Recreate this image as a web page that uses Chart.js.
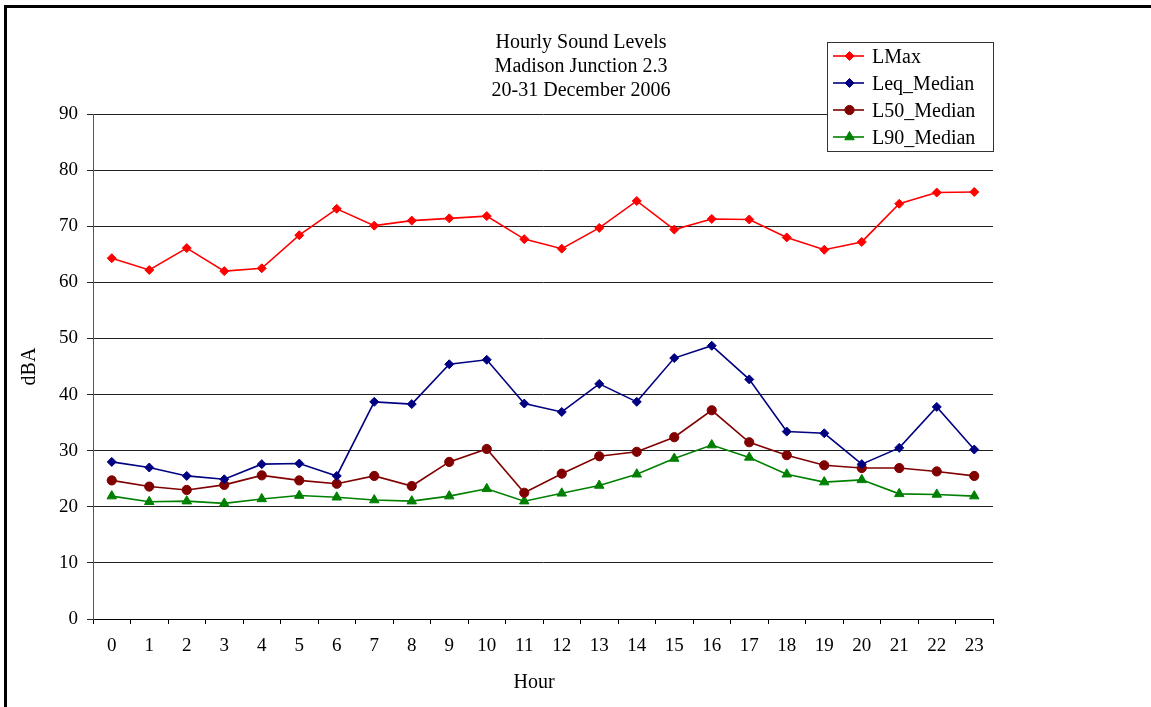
<!DOCTYPE html>
<html>
<head>
<meta charset="utf-8">
<script src="https://cdn.jsdelivr.net/npm/chart.js@4.4.0/dist/chart.umd.min.js"></script>
<style>
  html, body { margin: 0; padding: 0; background: #fff; overflow: hidden; }
  #wrap { position: absolute; left: 0; top: 0; width: 1151px; height: 707px; overflow: hidden; }
  #frame { position: absolute; left: 4px; top: 5px; width: 1300px; height: 900px;
           border-left: 3px solid #000; border-top: 3px solid #000; pointer-events: none; }
  canvas { position: absolute; left: 0; top: 0; }
</style>
</head>
<body>
<div id="wrap">
  <canvas id="c" width="1151" height="707"></canvas>
  <div id="frame"></div>
</div>
<script>
// ---- data ----
const hours = ['0','1','2','3','4','5','6','7','8','9','10','11','12','13','14','15','16','17','18','19','20','21','22','23'];
const lmax  = [64.3,62.2,66.1,62.0,62.5,68.4,73.1,70.1,71.0,71.4,71.8,67.7,66.0,69.7,74.5,69.4,71.3,71.2,68.0,65.8,67.2,74.0,76.0,76.1];
const leqMedian = [28.0,27.0,25.5,24.9,27.6,27.7,25.5,38.7,38.3,45.4,46.2,38.4,36.9,41.9,38.7,46.5,48.7,42.7,33.4,33.1,27.6,30.5,37.8,30.2];
const l50Median = [24.7,23.6,23.0,23.9,25.6,24.7,24.1,25.5,23.7,28.0,30.3,22.5,25.9,29.0,29.8,32.4,37.2,31.5,29.2,27.4,26.9,26.9,26.3,25.5];
const l90Median = [21.9,20.9,21.0,20.6,21.4,22.0,21.7,21.2,21.0,21.9,23.2,21.0,22.4,23.8,25.8,28.6,31.0,28.8,25.8,24.4,24.8,22.3,22.2,21.9];
const seriesNames = ['LMax','Leq_Median','L50_Median','L90_Median'];
const titleLines = ['Hourly Sound Levels','Madison Junction 2.3','20-31 December 2006'];
const xTitle = 'Hour';
const yTitle = 'dBA';
const yMin = 0, yMax = 90, yStep = 10;

const FONT = '"Liberation Serif", "Times New Roman", serif';

function mkSet(label, data, color, style, radius) {
  return {
    label, data,
    borderColor: color, backgroundColor: color,
    borderWidth: 1.6,
    pointStyle: style, pointRadius: radius, pointHoverRadius: radius,
    pointBackgroundColor: color, pointBorderColor: color, pointBorderWidth: 1,
    tension: 0, fill: false
  };
}

const datasets = [
  mkSet(seriesNames[0], lmax, '#ff0000', 'rectRot', 4.5),
  mkSet(seriesNames[1], leqMedian, '#000080', 'rectRot', 4.5),
  mkSet(seriesNames[2], l50Median, '#800000', 'circle', 4.6),
  mkSet(seriesNames[3], l90Median, '#008000', 'triangle', 5.5)
];

function drawMarker(ctx, style, r, x, y, color) {
  ctx.save();
  ctx.fillStyle = color; ctx.strokeStyle = color; ctx.lineWidth = 1;
  ctx.beginPath();
  if (style === 'rectRot') {
    ctx.moveTo(x - r, y); ctx.lineTo(x, y - r); ctx.lineTo(x + r, y); ctx.lineTo(x, y + r);
  } else if (style === 'circle') {
    ctx.arc(x, y, r, 0, Math.PI * 2);
  } else if (style === 'triangle') {
    ctx.moveTo(x, y - r);
    ctx.lineTo(x + r * Math.sin(2 * Math.PI / 3), y - r * Math.cos(2 * Math.PI / 3));
    ctx.lineTo(x + r * Math.sin(4 * Math.PI / 3), y - r * Math.cos(4 * Math.PI / 3));
  }
  ctx.closePath(); ctx.fill(); ctx.stroke();
  ctx.restore();
}

const overlay = {
  id: 'overlay',
  afterDraw(chart) {
    const ctx = chart.ctx;
    ctx.save();
    ctx.fillStyle = '#000';
    ctx.font = '20px ' + FONT;
    ctx.textAlign = 'center';
    ctx.textBaseline = 'alphabetic';
    titleLines.forEach((t, i) => ctx.fillText(t, 581, 48 + i * 24));
    // x axis title
    ctx.font = '20px ' + FONT;
    ctx.fillText(xTitle, 534, 688);
    // legend box
    const bx = 827.5, by = 42.5, bw = 166, bh = 109;
    ctx.fillStyle = '#fff';
    ctx.fillRect(bx, by, bw, bh);
    ctx.strokeStyle = '#333'; ctx.lineWidth = 1;
    ctx.strokeRect(bx, by, bw, bh);
    chart.data.datasets.forEach((ds, i) => {
      const cy = 56 + i * 27;
      ctx.strokeStyle = ds.borderColor; ctx.lineWidth = 1.6;
      ctx.beginPath(); ctx.moveTo(833, cy); ctx.lineTo(864, cy); ctx.stroke();
      drawMarker(ctx, ds.pointStyle, ds.pointRadius, 849.5, cy, ds.borderColor);
      ctx.fillStyle = '#000';
      ctx.textAlign = 'left';
      ctx.font = '20px ' + FONT;
      ctx.fillText(ds.label, 872, cy + 6.5);
    });
    ctx.restore();
  }
};

new Chart(document.getElementById('c'), {
  type: 'line',
  data: { labels: hours, datasets },
  plugins: [overlay],
  options: {
    responsive: false,
    animation: false,
    devicePixelRatio: 1,
    layout: { padding: { left: 0, top: 114, right: 158, bottom: 0 } },
    plugins: {
      legend: { display: false },
      title: { display: false },
      tooltip: { enabled: false }
    },
    scales: {
      x: {
        type: 'category',
        offset: true,
        grid: { display: true, drawOnChartArea: false, drawTicks: true, tickLength: 5, color: '#000', offset: true },
        border: { display: true, color: '#000', width: 1 },
        ticks: { color: '#000', font: { family: FONT, size: 19 }, padding: 11, maxRotation: 0, autoSkip: false },
        afterFit(scale) { scale.height = 88; }
      },
      y: {
        min: yMin, max: yMax,
        grid: { color: '#222', lineWidth: 1, drawTicks: true, tickLength: 6 },
        border: { display: true, color: '#555', width: 1 },
        ticks: { stepSize: yStep, color: '#000', font: { family: FONT, size: 19 }, padding: 9 },
        title: { display: true, text: yTitle, color: '#000', font: { family: FONT, size: 20 }, padding: { top: 18, bottom: 0 } },
        afterFit(scale) { scale.width = 93; }
      }
    }
  }
});
</script>
</body>
</html>
